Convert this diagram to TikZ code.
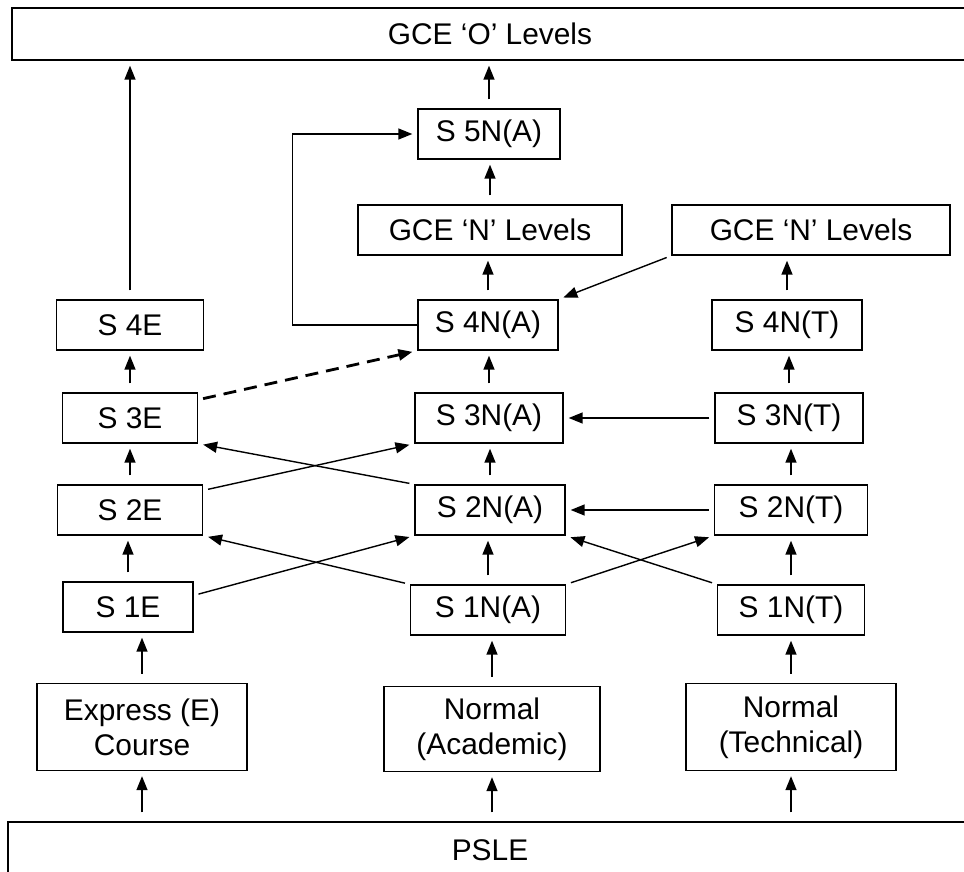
\documentclass[tikz,border=0pt]{standalone}
\usepackage{fontspec}
\setmainfont{Liberation Sans}
\usetikzlibrary{calc}
\usetikzlibrary{arrows.meta}

\begin{document}
\begin{tikzpicture}[x = 0.02cm, y = -0.02cm,
	stage/.style = {draw, line width = 0.8pt, minimum height = 1cm, inner sep = 0pt, font = \fontsize{17}{20}\selectfont},
	course/.style = {stage, minimum height = 1.74cm, align = center},
	up/.style = {-{Triangle[length = 2.8mm, width = 2.2mm]}, line width = 0.8pt, shorten < = 1.8mm, shorten > = 1mm},
	cross/.style = {up, shorten < = 1mm}]

	\useasboundingbox (0,0) rectangle (964,872);

	% rows of the three courses
	\def \rowOne {610};
	\def \rowTwo {510};
	\def \rowThree {418};
	\def \rowFour {325};

	% exams at the top and the bottom
	\node [stage, minimum width = 19.12cm, minimum height = 1.04cm] (olevel) at (490,34) {GCE ‘O’ Levels};
	\node [stage, minimum width = 19.28cm, minimum height = 1.12cm] (psle) at (490,850) {PSLE};

	% courses
	\node [course, minimum width = 4.2cm] (express) at (142,727) {Express (E)\\Course};
	\node [course, minimum width = 4.32cm, minimum height = 1.7cm] (academic) at (492,729) {Normal\\(Academic)};
	\node [course, minimum width = 4.2cm] (technical) at (791,727) {Normal\\(Technical)};

	% express stream
	\node [stage, minimum width = 2.6cm] (s1e) at (128,607) {S 1E};
	\node [stage, minimum width = 2.9cm] (s2e) at (130,\rowTwo) {S 2E};
	\node [stage, minimum width = 2.7cm] (s3e) at (130,\rowThree) {S 3E};
	\node [stage, minimum width = 2.94cm] (s4e) at (130,\rowFour) {S 4E};

	% normal (academic) stream
	\node [stage, minimum width = 3.1cm] (s1na) at (488,\rowOne) {S 1N(A)};
	\node [stage, minimum width = 3.0cm] (s2na) at (490,\rowTwo) {S 2N(A)};
	\node [stage, minimum width = 2.96cm] (s3na) at (489,\rowThree) {S 3N(A)};
	\node [stage, minimum width = 2.8cm] (s4na) at (488,\rowFour) {S 4N(A)};
	\node [stage, minimum width = 5.28cm] (nlevelA) at (490,230) {GCE ‘N’ Levels};
	\node [stage, minimum width = 2.84cm] (s5na) at (489,134) {S 5N(A)};

	% normal (technical) stream
	\node [stage, minimum width = 2.94cm] (s1nt) at (791,\rowOne) {S 1N(T)};
	\node [stage, minimum width = 3.06cm] (s2nt) at (791,\rowTwo) {S 2N(T)};
	\node [stage, minimum width = 2.96cm] (s3nt) at (789,\rowThree) {S 3N(T)};
	\node [stage, minimum width = 3.0cm] (s4nt) at (787,\rowFour) {S 4N(T)};
	\node [stage, minimum width = 5.56cm] (nlevelT) at (811,230) {GCE ‘N’ Levels};

	% straight up, from PSLE to the courses
	\foreach \c in {express, academic, technical}
		\draw [up] (psle.north -| \c.south) -- (\c.south);

	% straight up, one year after the other
	\foreach \a/\b in {express/s1e, s1e/s2e, s2e/s3e, s3e/s4e, s4e/olevel,
		academic/s1na, s1na/s2na, s2na/s3na, s3na/s4na, s4na/nlevelA, nlevelA/s5na, s5na/olevel,
		technical/s1nt, s1nt/s2nt, s2nt/s3nt, s3nt/s4nt, s4nt/nlevelT}
		\draw [up] (\a.north) -- (\a.north |- \b.south);

	% lateral transfers
	\draw [cross] (s1e.10) -- (s2na.south west);
	\draw [cross] (s1na.north west) -- (s2e.south east);
	\draw [cross] (s1na.north east) -- (s2nt.south west);
	\draw [cross] (s1nt.north west) -- (s2na.south east);
	\draw [cross] (s2e.15) -- (s3na.south west);
	\draw [cross] (s2na.north west) -- (s3e.south east);
	\draw [cross] (s2nt.west) -- (s2na.east);
	\draw [cross] (s3nt.west) -- (s3na.east);
	\draw [cross, line width = 1.6pt, dash pattern = on 2.6mm off 1.6mm] (s3e.15) -- (s4na.south west);
	\draw [cross] (nlevelT.south west) -- (s4na.north east);

	% from S 4N(A) straight on to S 5N(A)
	\draw [-{Triangle[length = 2.8mm, width = 2.2mm]}, line width = 0.8pt, shorten > = 1mm] (s4na.west) -- ++(-125,0) |- (s5na.west);

\end{tikzpicture}
\end{document}
